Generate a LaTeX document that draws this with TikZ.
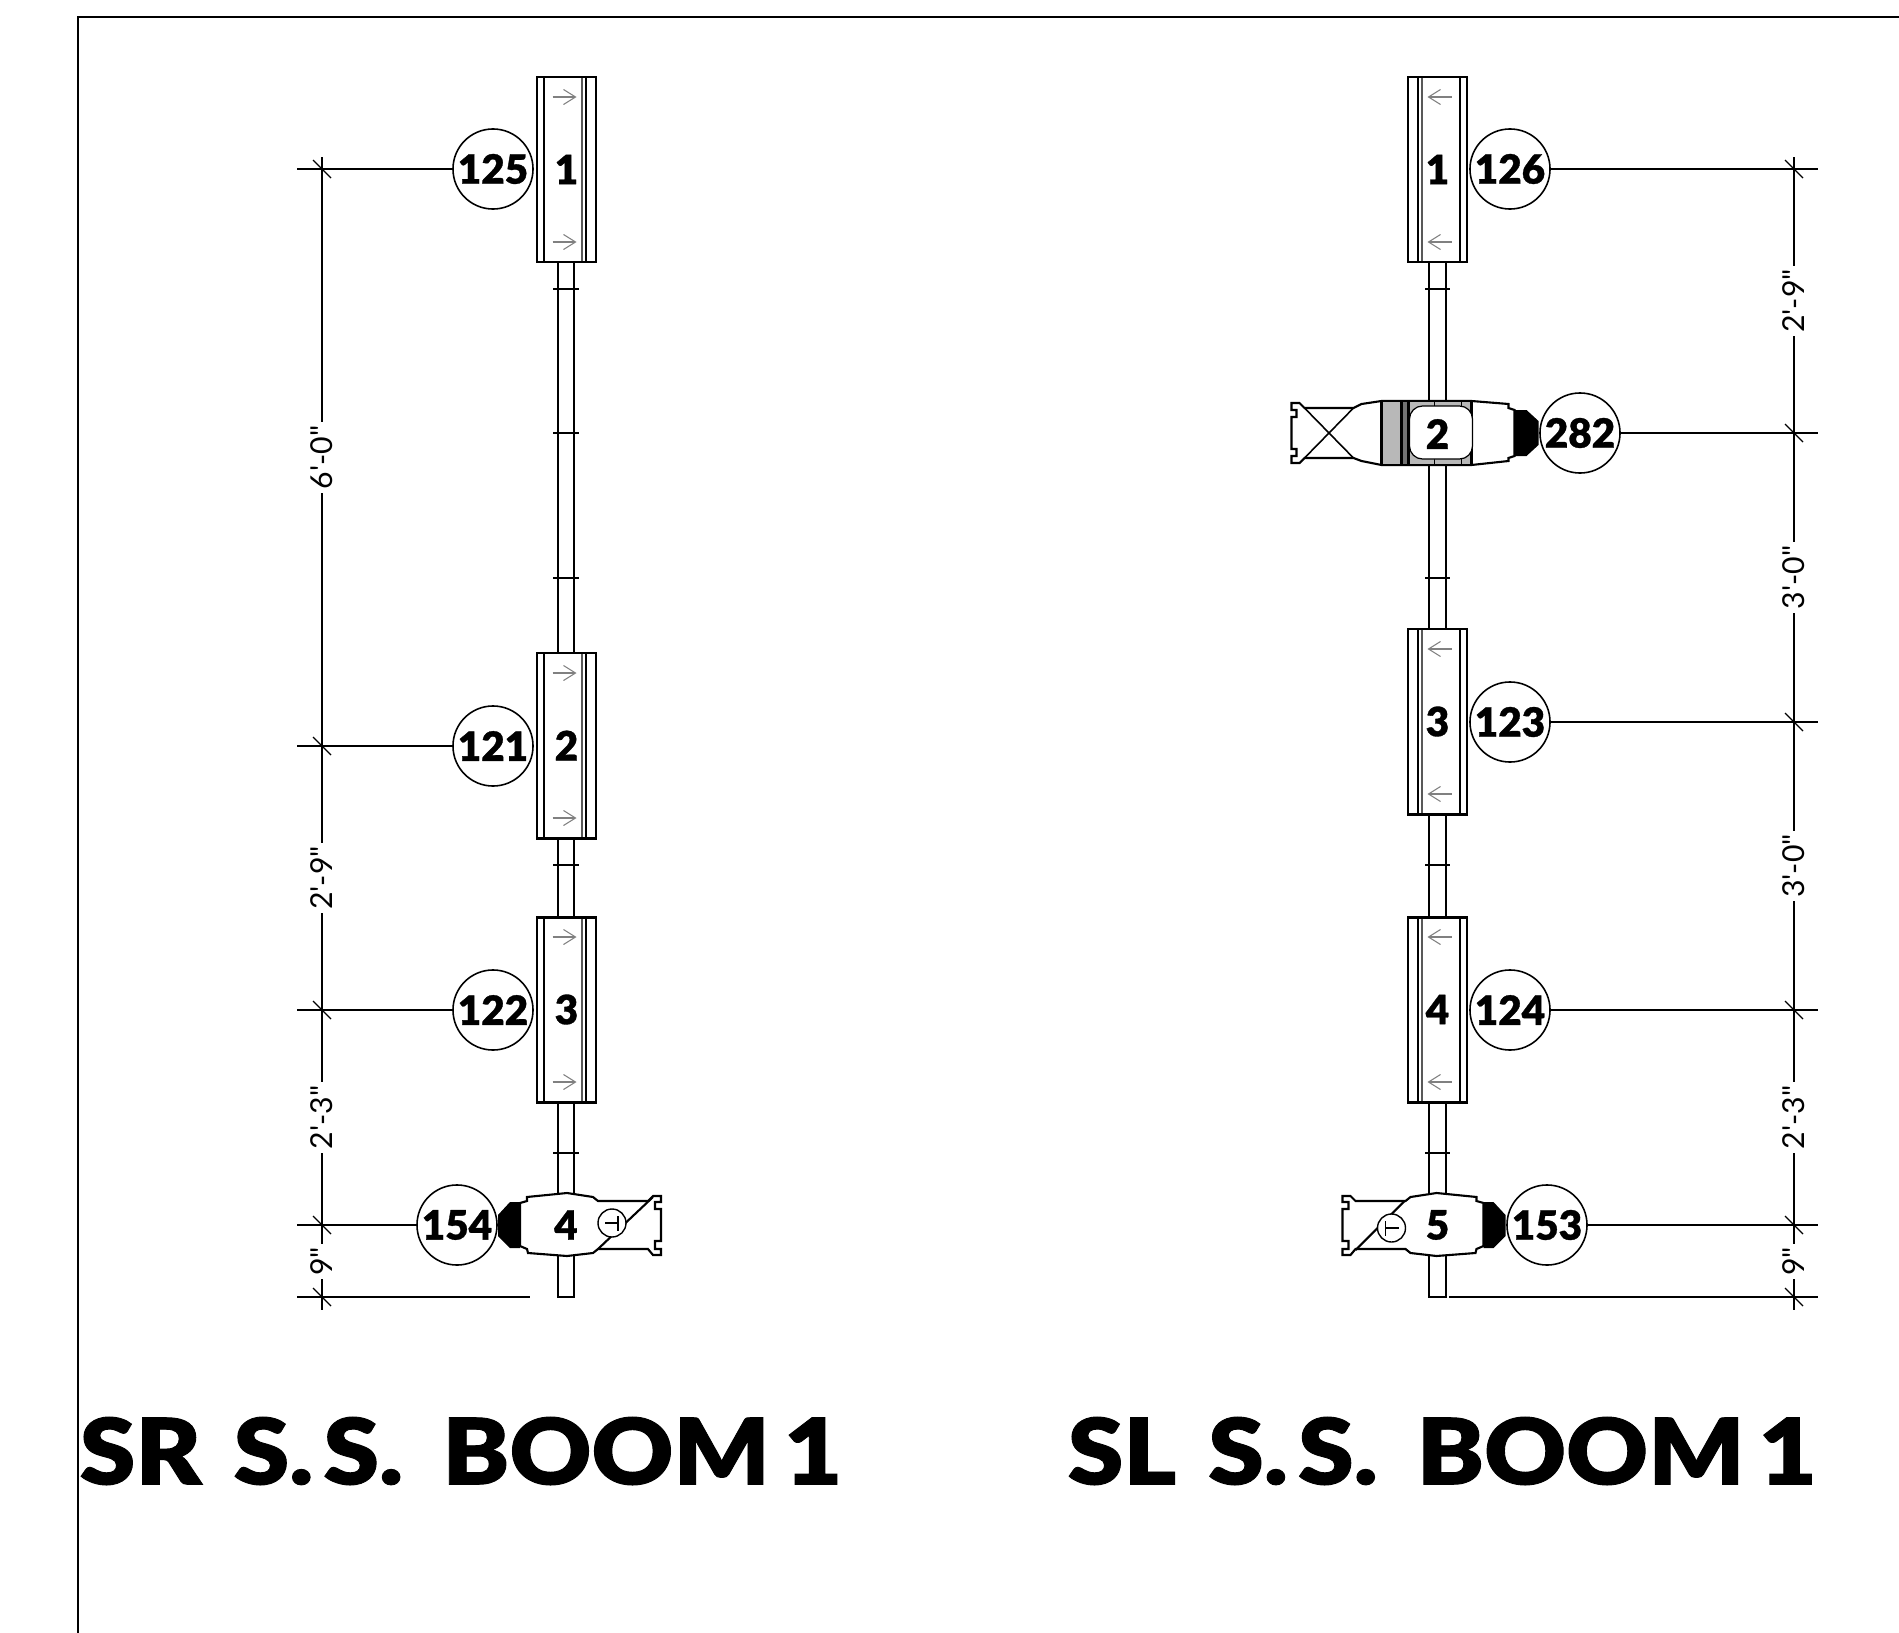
\documentclass[tikz,border=0pt]{standalone}
\usepackage{fontspec}
\usepackage{tikz}
\usetikzlibrary{arrows.meta}
\setmainfont{Lato}
\newfontfamily\heavyfont{Lato}[UprightFont=* Black, FakeBold=0.8]
\newfontfamily\headfont{Lato}[UprightFont=* Black, FakeStretch=1.1, FakeBold=1, WordSpace=1.38]
\newfontfamily\dimfont{Lato}
\tikzset{
	framing/.style  = {draw, line width = 0.75pt},
	pipe/.style     = {draw, fill = white, line width = 0.6pt},
	bar/.style      = {line width = 0.85pt},
	thin line/.style = {line width = 0.35pt},
	hanger/.style   = {line width = 0.6pt},
	barb/.style     = {draw = gray, line width = 0.3pt, -{Straight Barb[length=1.2mm, width=1.5mm]}},
	dimline/.style  = {draw, line width = 0.35pt},
	dimtext/.style  = {fill = white, rotate = 90, inner sep = 1pt, font = \dimfont\fontsize{8.6}{10}\selectfont},
	tag/.style      = {draw, circle, fill = white, line width = 0.45pt, minimum size = 0.8cm, inner sep = 0pt,
		font = \heavyfont\fontsize{11.5}{12}\selectfont},
	chan/.style     = {inner sep = 0pt, font = \heavyfont\fontsize{11.5}{12}\selectfont},
	title/.style    = {inner sep = 0pt, anchor = west, font = \headfont\fontsize{26}{28}\selectfont}
}
% x y name channel direction
\newcommand{\fixture}[5]{
	\begin{scope}[shift={(#1,#2)}, xscale=#5]
		\draw[pipe, line width = 0.7pt] (-29.5,0) rectangle (29.5,185);
		\draw[thin line, line width = 0.45pt] (-22.5,0) -- (-22.5,185);
		\draw[thin line, line width = 0.45pt, draw = black!65] (15.5,0) -- (15.5,185);
		\draw[thin line, line width = 0.45pt] (19.5,0) -- (19.5,185);
		\draw[bar] (-30.5,0) -- (30.5,0);
		\draw[bar] (-30.5,185) -- (30.5,185);
		\draw[barb] (-14,20) -- (10,20);
		\draw[barb] (-14,165) -- (10,165);
		\node[chan] (#3) at (0,92.5) {#4};
	\end{scope}
}
% x y name channel direction diagonal symbol-y
\newcommand{\profile}[7]{
	\begin{scope}[shift={(#1,#2)}, xscale=#5]
		\draw[hanger, fill = white] (-46,-22) -- (-39,-24) -- (-39,-28) -- (1,-32) -- (27,-28) -- (32,-24)
			-- (82,-24) -- (87,-29) -- (95,-29) -- (95,-23) -- (89,-23) -- (89,-16) -- (95,-16)
			-- (95,16) -- (89,16) -- (89,24) -- (95,24) -- (95,30) -- (87,30) -- (82,24) -- (32,24)
			-- (27,28) -- (1,31) -- (-38,28) -- (-39,24) -- (-46,21) -- cycle;
		\fill (-46,-23) -- (-56,-23) -- (-68,-10) -- (-68,11) -- (-56,23) -- (-46,23) -- cycle;
		\draw[hanger] #6;
		\draw[thin line, line width = 0.4pt, fill = white] (46,#7) circle (14);
		\draw[thin line, line width = 0.5pt] (39,#7) -- (52,#7) (52,#7-7) -- (52,#7+8);
		\node[chan] (#3) at (0,0) {#4};
	\end{scope}
}
% x y
\newcommand{\tick}[2]{
	\draw[dimline] (#1-9,#2-9) -- (#1+9,#2+9);
}

\begin{document}
\begin{tikzpicture}[x=0.01cm, y=-0.01cm, >=latex]
	\useasboundingbox (0,0) rectangle (1899,1633);
	\draw[framing] (1899,17) -- (78,17) -- (78,1633);

	% pipes with their marks
	\draw[pipe] (558,262) rectangle (574,1297);
	\draw[pipe] (1429,262) rectangle (1446,1297);
	\foreach \y in {289,433,578,865,1153} {
		\draw[line width = 0.5pt] (553,\y) -- (579,\y);
		\draw[line width = 0.5pt] (1425,\y) -- (1450,\y);
	}

	% stage right boom
	\fixture{566.5}{77}{fa}{1}{1}
	\fixture{566.5}{653}{fb}{2}{1}
	\fixture{566.5}{917}{fc}{3}{1}
	\profile{566}{1225}{fd}{4}{1}{(87,-28) -- (32,24)}{-2}

	% stage left boom
	\fixture{1437.5}{77}{ga}{1}{-1}
	\fixture{1437.5}{629}{gc}{3}{-1}
	\fixture{1437.5}{917}{gd}{4}{-1}
	\profile{1437.5}{1225}{ge}{5}{-1}{(33,-24) -- (82,25)}{3}
	\draw[thin line] (1449,1297) -- (1818,1297);

	% unit 2 on stage left
	\begin{scope}[shift={(1437.5,433)}]
		\draw[hanger, fill = white] (-84,-25) -- (-76,-29) -- (-56,-32) -- (34,-32) -- (71,-29) -- (71,-25) -- (77,-23)
			-- (77,23) -- (71,25) -- (71,28) -- (34,32) -- (-56,32) -- (-76,28) -- (-84,25)
			-- (-133,25) -- (-138,30) -- (-146,30) -- (-146,23) -- (-141,23) -- (-141,16) -- (-146,16)
			-- (-146,-16) -- (-141,-16) -- (-141,-23) -- (-146,-23) -- (-146,-30) -- (-138,-30) -- (-133,-25) -- cycle;
		\draw[thin line, line width = 0.45pt] (-133,-25) -- (-84,25) (-133,25) -- (-84,-25);
		\fill (77,-23) -- (89,-23) -- (101,-12) -- (101,12) -- (89,23) -- (77,23) -- cycle;
		\draw[hanger, fill = black!28] (-56,-32) rectangle (-36,32);
		\draw[hanger, fill = black!55] (-36,-32) rectangle (-29,32);
		\draw[hanger, fill = black!28] (-29,-32) rectangle (34,32);
		\draw[thin line] (-3,-32) -- (-3,-27) (24,-32) -- (24,-27) (-3,32) -- (-3,26) (24,32) -- (24,26);
		\draw[thin line, fill = white, rounded corners = 1.3mm] (-28,-27) rectangle (35,26);
		\node[chan] (gb) at (0,1) {2};
	\end{scope}

	% tags
	\draw
	node at (493,169)[tag] (c125) {125}
	node at (493,746)[tag] (c121) {121}
	node at (493,1010)[tag] (c122) {122}
	node at (457,1225)[tag] (c154) {154}
	node at (1510,169)[tag] (c126) {126}
	node at (1580,433)[tag] (c282) {282}
	node at (1510,722)[tag] (c123) {123}
	node at (1510,1010)[tag] (c124) {124}
	node at (1547,1225)[tag] (c153) {153};

	% stage right dimensions
	\coordinate (ra) at (322,157);
	\coordinate (rb) at (322,746);
	\coordinate (rc) at (322,1010);
	\coordinate (rd) at (322,1225);
	\coordinate (re) at (322,1310);
	\draw[dimline] (ra) -- (322,169) -- node[dimtext] (r60) {6'-0"} (rb)
		-- node[dimtext] (r29) {2'-9"} (rc)
		-- node[dimtext] (r23) {2'-3"} (rd)
		-- node[dimtext, pos = 0.43] (r9) {9"} (re);
	\draw[dimline] (c125) -- (297,169);
	\draw[dimline] (c121) -- (297,746);
	\draw[dimline] (c122) -- (297,1010);
	\draw[dimline] (c154) -- (297,1225);
	\draw[dimline] (297,1297) -- (530,1297);
	\tick{322}{169} \tick{322}{746} \tick{322}{1010} \tick{322}{1225} \tick{322}{1297}

	% stage left dimensions
	\coordinate (la) at (1794,157);
	\coordinate (lb) at (1794,433);
	\coordinate (lc) at (1794,722);
	\coordinate (ld) at (1794,1010);
	\coordinate (le) at (1794,1225);
	\coordinate (lf) at (1794,1310);
	\draw[dimline] (la) -- (1794,169) -- node[dimtext] (s29) {2'-9"} (lb)
		-- node[dimtext] (s30) {3'-0"} (lc)
		-- node[dimtext] (s31) {3'-0"} (ld)
		-- node[dimtext] (s23) {2'-3"} (le)
		-- node[dimtext, pos = 0.43] (s9) {9"} (lf);
	\draw[dimline] (c126) -- (1818,169);
	\draw[dimline] (c282) -- (1818,433);
	\draw[dimline] (c123) -- (1818,722);
	\draw[dimline] (c124) -- (1818,1010);
	\draw[dimline] (c153) -- (1818,1225);
	\tick{1794}{169} \tick{1794}{433} \tick{1794}{722} \tick{1794}{1010} \tick{1794}{1225} \tick{1794}{1297}

	% titles
	\node[title] (srtitle) at (79,1451) {SR S.\kern1mm S.\kern.7mm\ BOOM\hspace{1.4mm}1};
	\node[title] (sltitle) at (1067,1451) {SL S.\kern1mm S.\kern.7mm\ BOOM\hspace{1.4mm}1};
\end{tikzpicture}
\end{document}
